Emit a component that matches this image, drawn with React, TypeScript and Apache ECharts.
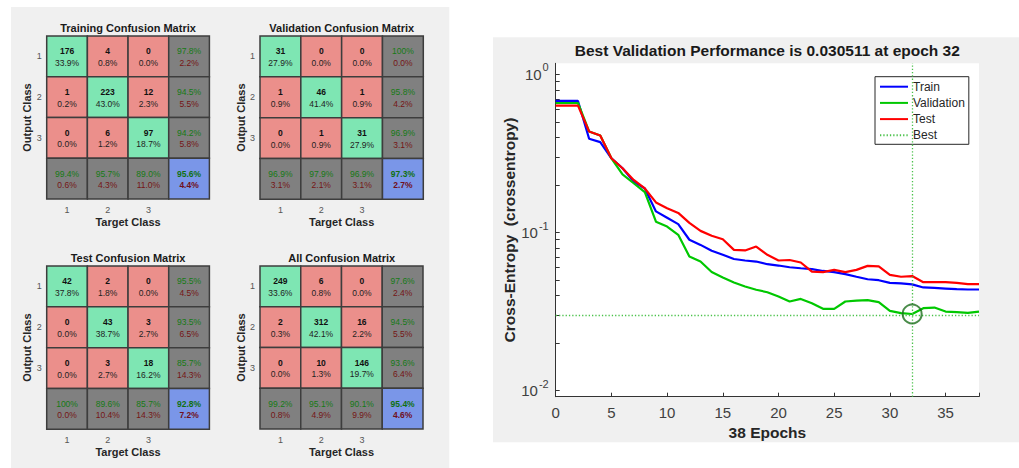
import React, { useEffect, useRef } from 'react';
import * as echarts from 'echarts';

const FONT = '"Liberation Sans", Arial, Helvetica, sans-serif';

// ---------- Confusion matrices ----------
const classLabels = ['1', '2', '3', ''];
const matrixTitles = [
  'Training Confusion Matrix',
  'Validation Confusion Matrix',
  'Test Confusion Matrix',
  'All Confusion Matrix',
];
// rows = output class, columns = target class
const trainingCounts = [
  [176, 4, 0],
  [1, 223, 12],
  [0, 6, 97],
];
const validationCounts = [
  [31, 0, 0],
  [1, 46, 1],
  [0, 1, 31],
];
const testCounts = [
  [42, 2, 0],
  [0, 43, 3],
  [0, 3, 18],
];
const allCounts = [
  [249, 6, 0],
  [2, 312, 16],
  [0, 10, 146],
];

// ---------- Performance plot ----------
const epochs = [0, 1, 2, 3, 4, 5, 6, 7, 8, 9, 10, 11, 12, 13, 14, 15, 16, 17, 18, 19, 20, 21, 22, 23, 24, 25, 26, 27, 28, 29, 30, 31, 32, 33, 34, 35, 36, 37, 38];
const trainPerf = [0.68, 0.68, 0.68, 0.392, 0.373, 0.295, 0.255, 0.21, 0.19, 0.136, 0.124, 0.113, 0.09, 0.0835, 0.0766, 0.0723, 0.068, 0.0665, 0.0655, 0.063, 0.0618, 0.0603, 0.0594, 0.0586, 0.0571, 0.0562, 0.0545, 0.0525, 0.0506, 0.0499, 0.048, 0.0476, 0.047, 0.0449, 0.0446, 0.0442, 0.0438, 0.0436, 0.0436];
const validationPerf = [0.66, 0.66, 0.66, 0.436, 0.411, 0.295, 0.233, 0.205, 0.18, 0.117, 0.109, 0.0967, 0.0705, 0.0655, 0.0563, 0.0519, 0.0483, 0.0455, 0.0434, 0.0419, 0.0394, 0.0366, 0.038, 0.0357, 0.0329, 0.0329, 0.0366, 0.0371, 0.0373, 0.0363, 0.0319, 0.0309, 0.030511, 0.0332, 0.0335, 0.0316, 0.0313, 0.031, 0.0316];
const testPerf = [0.635, 0.635, 0.635, 0.436, 0.411, 0.295, 0.255, 0.215, 0.19, 0.155, 0.1425, 0.133, 0.115, 0.1024, 0.0953, 0.0907, 0.0776, 0.077, 0.0815, 0.0723, 0.0665, 0.067, 0.0646, 0.0566, 0.0562, 0.058, 0.0562, 0.058, 0.0615, 0.061, 0.054, 0.0525, 0.053, 0.0485, 0.0485, 0.0485, 0.048, 0.0471, 0.0471];
const bestEpoch = 32;
const bestValue = 0.030511;
const yLabelValues = [0.01, 0.1, 1];
const yTickValues = [0.01, 0.02, 0.03, 0.04, 0.05, 0.06, 0.07, 0.08, 0.09, 0.1, 0.2, 0.3, 0.4, 0.5, 0.6, 0.7, 0.8, 0.9, 1];
const xTickLabels = [0, 5, 10, 15, 20, 25, 30, 35];

type Cell = { col: number; row: number; kind: string; top: string; bottom: string };

function fmtPct(v: number): string {
  if (Math.abs(v - 100) < 1e-9) return '100%';
  return v.toFixed(1) + '%';
}

function buildCells(counts: number[][]): Cell[] {
  const cells: Cell[] = [];
  let total = 0;
  let correct = 0;
  counts.forEach((row, r) => row.forEach((n, c) => { total += n; if (r === c) correct += n; }));
  for (let r = 0; r < 3; r++) {
    for (let c = 0; c < 3; c++) {
      const n = counts[r][c];
      cells.push({ col: c, row: r, kind: r === c ? 'diag' : 'off', top: String(n), bottom: fmtPct((100 * n) / total) });
    }
  }
  for (let r = 0; r < 3; r++) {
    const s = counts[r][0] + counts[r][1] + counts[r][2];
    const ok = counts[r][r];
    cells.push({ col: 3, row: r, kind: 'sum', top: fmtPct((100 * ok) / s), bottom: fmtPct((100 * (s - ok)) / s) });
  }
  for (let c = 0; c < 3; c++) {
    const s = counts[0][c] + counts[1][c] + counts[2][c];
    const ok = counts[c][c];
    cells.push({ col: c, row: 3, kind: 'sum', top: fmtPct((100 * ok) / s), bottom: fmtPct((100 * (s - ok)) / s) });
  }
  cells.push({ col: 3, row: 3, kind: 'total', top: fmtPct((100 * correct) / total), bottom: fmtPct((100 * (total - correct)) / total) });
  return cells;
}

const FILLS: Record<string, string> = { diag: '#7ee6b3', off: '#eb8f8b', sum: '#808080', total: '#7a96e8' };

function makeRender(cells: Cell[]) {
  return (params: any, api: any) => {
    const cell = cells[params.dataIndex];
    const p = api.coord([api.value(0), api.value(1)]);
    const s = api.size([1, 1]);
    const w = s[0];
    const h = s[1];
    let c1 = '#111';
    let c2 = '#222';
    let w1 = 'bold';
    let w2 = 'normal';
    if (cell.kind === 'sum') { c1 = '#157a15'; c2 = '#751515'; w1 = 'normal'; }
    if (cell.kind === 'total') { c1 = '#107010'; c2 = '#701020'; w1 = 'bold'; w2 = 'bold'; }
    return {
      type: 'group',
      children: [
        { type: 'rect', shape: { x: p[0] - w / 2, y: p[1] - h / 2, width: w, height: h }, style: { fill: FILLS[cell.kind], stroke: '#3d3d3d', lineWidth: 1.5 } },
        { type: 'text', x: p[0], y: p[1] - 5, style: { text: cell.top, fill: c1, fontSize: 8.5, fontWeight: w1, fontFamily: FONT, align: 'center', verticalAlign: 'middle' } },
        { type: 'text', x: p[0], y: p[1] + 6.5, style: { text: cell.bottom, fill: c2, fontSize: 8.5, fontWeight: w2, fontFamily: FONT, align: 'center', verticalAlign: 'middle' } },
      ],
    };
  };
}

const matrixCounts = [trainingCounts, validationCounts, testCounts, allCounts];
const matrixGrids = [
  { left: 46.7, top: 36, width: 162.7, height: 163 },
  { left: 260, top: 36, width: 163.3, height: 163.3 },
  { left: 46.7, top: 266, width: 162.7, height: 163.3 },
  { left: 260, top: 266, width: 163, height: 163 },
];

function buildOption() {
  const grids: any[] = matrixGrids.map((g) => ({ ...g, containLabel: false }));
  grids.push({ left: 555.7, top: 63.3, width: 423.3, height: 333.4, show: true, backgroundColor: '#ffffff', borderWidth: 0 });

  const xAxes: any[] = matrixGrids.map((_, i) => ({
    gridIndex: i,
    type: 'category',
    data: classLabels,
    axisLine: { show: false },
    axisTick: { show: false },
    splitLine: { show: false },
    axisLabel: { fontSize: 9, color: '#555', margin: 6, fontFamily: FONT },
    name: 'Target Class',
    nameLocation: 'middle',
    nameGap: 17,
    nameTextStyle: { fontSize: 11, fontWeight: 'bold', color: '#262626', fontFamily: FONT },
  }));
  const yAxes: any[] = matrixGrids.map((_, i) => ({
    gridIndex: i,
    type: 'category',
    inverse: true,
    data: classLabels,
    axisLine: { show: false },
    axisTick: { show: false },
    splitLine: { show: false },
    axisLabel: { fontSize: 9, color: '#555', margin: 5, fontFamily: FONT },
    name: 'Output Class',
    nameLocation: 'middle',
    nameGap: 12.5,
    nameTextStyle: { fontSize: 11, fontWeight: 'bold', color: '#262626', fontFamily: FONT },
  }));

  xAxes.push({
    gridIndex: 4,
    type: 'value',
    min: 0,
    max: 38,
    interval: 5,
    axisLine: { show: true, lineStyle: { color: '#333', width: 1 } },
    axisTick: { show: true, inside: true, length: 4, lineStyle: { color: '#333' } },
    splitLine: { show: false },
    axisLabel: { fontSize: 15, color: '#404040', margin: 8, fontFamily: FONT, customValues: xTickLabels },
    name: '38 Epochs',
    nameLocation: 'middle',
    nameGap: 26,
    nameTextStyle: { fontSize: 15.5, fontWeight: 'bold', color: '#262626', fontFamily: FONT },
  });
  yAxes.push({
    gridIndex: 4,
    type: 'log',
    logBase: 10,
    min: 0.00914,
    max: 1.177,
    axisLine: { show: true, lineStyle: { color: '#333', width: 1 } },
    axisTick: { show: true, inside: true, length: 4, lineStyle: { color: '#333' }, customValues: yTickValues },
    splitLine: { show: false },
    axisLabel: {
      customValues: yLabelValues,
      margin: 7,
      color: '#404040',
      fontFamily: FONT,
      formatter: (v: number) => '{b|10}{s|' + Math.round(Math.log10(v)) + '}',
      rich: {
        b: { fontSize: 15, color: '#404040', fontFamily: FONT, padding: [5, 0, 5, 0] },
        s: { fontSize: 11, color: '#404040', fontFamily: FONT, verticalAlign: 'top', padding: [0, 0, 0, 1] },
      },
    },
    name: 'Cross-Entropy  (crossentropy)',
    nameLocation: 'middle',
    nameGap: 34.5,
    nameTextStyle: { fontSize: 15.5, fontWeight: 'bold', color: '#262626', fontFamily: FONT },
  });

  const series: any[] = matrixCounts.map((counts, i) => {
    const cells = buildCells(counts);
    return {
      type: 'custom',
      name: matrixTitles[i],
      xAxisIndex: i,
      yAxisIndex: i,
      renderItem: makeRender(cells),
      data: cells.map((c) => [c.col, c.row]),
      silent: true,
    };
  });

  const lineSeries = (name: string, values: number[], color: string) => ({
    type: 'line',
    name,
    xAxisIndex: 4,
    yAxisIndex: 4,
    data: epochs.map((e, i) => [e, values[i]]),
    symbol: 'none',
    lineStyle: { color, width: 2.2 },
    itemStyle: { color },
    silent: true,
  });
  series.push(lineSeries('Train', trainPerf, '#0000ff'));
  series.push(lineSeries('Validation', validationPerf, '#00c800'));
  series.push(lineSeries('Test', testPerf, '#ff0000'));
  series.push({
    type: 'line',
    name: 'Best',
    xAxisIndex: 4,
    yAxisIndex: 4,
    data: [[bestEpoch, bestValue]],
    symbol: 'none',
    lineStyle: { color: '#4cc24c', width: 1, type: [1.3, 2] },
    itemStyle: { color: '#4cc24c' },
    silent: true,
    markLine: {
      silent: true,
      symbol: 'none',
      label: { show: false },
      lineStyle: { color: '#4cc24c', width: 1.3, type: [1.3, 2] },
      data: [{ xAxis: bestEpoch }, { yAxis: bestValue }],
    },
  });
  series.push({
    type: 'scatter',
    name: 'BestPoint',
    xAxisIndex: 4,
    yAxisIndex: 4,
    data: [[bestEpoch, bestValue]],
    symbol: 'circle',
    symbolSize: 19,
    itemStyle: { color: 'rgba(0,0,0,0)', borderColor: '#1b6e1b', borderWidth: 2 },
    silent: true,
    z: 5,
  });

  const titles: any[] = [
    { text: matrixTitles[0], left: 128, top: 22 },
    { text: matrixTitles[1], left: 341.7, top: 22 },
    { text: matrixTitles[2], left: 128, top: 252 },
    { text: matrixTitles[3], left: 341.7, top: 252 },
  ].map((t) => ({ ...t, textAlign: 'center', padding: 0, textStyle: { fontSize: 11, fontWeight: 'bold', color: '#1a1a1a', fontFamily: FONT } }));
  titles.push({
    text: 'Best Validation Performance is 0.030511 at epoch 32',
    left: 767.3,
    top: 42.5,
    textAlign: 'center',
    padding: 0,
    textStyle: { fontSize: 15.5, fontWeight: 'bold', color: '#1a1a1a', fontFamily: FONT },
  });

  return {
    animation: false,
    backgroundColor: '#ffffff',
    textStyle: { fontFamily: FONT },
    title: titles,
    graphic: [
      { type: 'rect', z: -10, silent: true, shape: { x: 11, y: 7, width: 438.3, height: 461 }, style: { fill: '#f0f0f0' } },
      { type: 'rect', z: -10, silent: true, shape: { x: 493, y: 37.3, width: 526, height: 405 }, style: { fill: '#f0f0f0' } },
    ],
    legend: {
      data: ['Train', 'Validation', 'Test', 'Best'],
      orient: 'vertical',
      left: 875,
      top: 76.7,
      padding: [4, 4, 3, 4],
      itemWidth: 28,
      itemHeight: 12,
      itemGap: 4.2,
      selectedMode: false,
      itemStyle: { opacity: 0 },
      backgroundColor: '#ffffff',
      borderColor: '#262626',
      borderWidth: 1,
      borderRadius: 0,
      textStyle: { fontSize: 12, color: '#262626', fontFamily: FONT },
    },
    grid: grids,
    xAxis: xAxes,
    yAxis: yAxes,
    series,
  };
}

export default function App() {
  const ref = useRef<HTMLDivElement>(null);
  useEffect(() => {
    if (!ref.current) return;
    const chart = echarts.init(ref.current, null, { renderer: 'svg' });
    chart.setOption(buildOption() as any);
    return () => chart.dispose();
  }, []);
  return <div ref={ref} style={{ position: 'fixed', left: 0, top: 0, width: 1019, height: 468 }} />;
}
